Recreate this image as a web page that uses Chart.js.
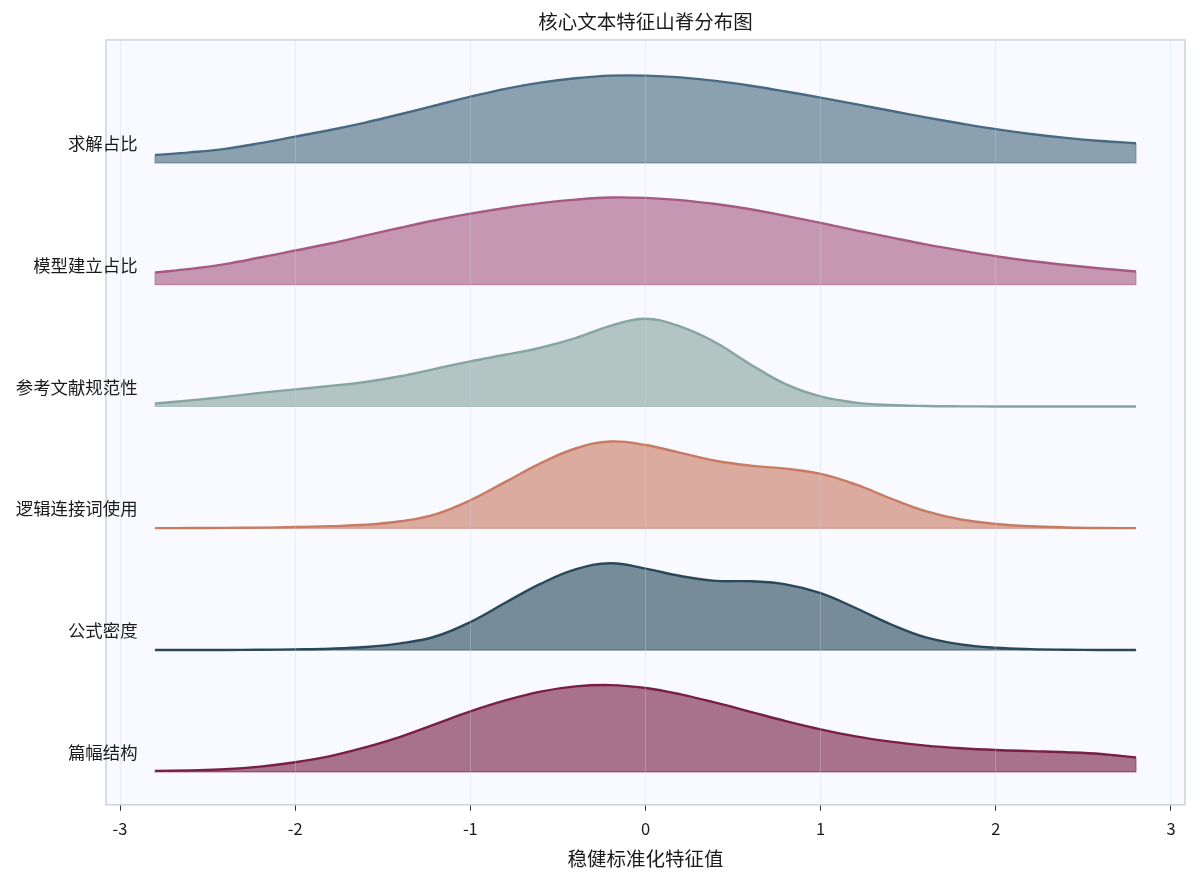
<!DOCTYPE html>
<html>
<head>
<meta charset="utf-8">
<title>核心文本特征山脊分布图</title>
<script src="https://cdn.jsdelivr.net/npm/chart.js@4.4.1/dist/chart.umd.min.js"></script>
<style>
  html, body { margin: 0; padding: 0; background: #ffffff; }
  #wrap { width: 1200px; height: 882px; }
</style>
</head>
<body>
<div id="wrap"><canvas id="ridgeChart"></canvas></div>
<script>
// 特征（从上到下）
const features = ['求解占比', '模型建立占比', '参考文献规范性', '逻辑连接词使用', '公式密度', '篇幅结构'];

// 评估网格 (稳健标准化特征值)
const xGrid = [-2.8, -2.6, -2.4, -2.2, -2.0, -1.8, -1.6, -1.4, -1.2, -1.0, -0.8, -0.6, -0.4, -0.2, 0.0,
  0.2, 0.4, 0.6, 0.8, 1.0, 1.2, 1.4, 1.6, 1.8, 2.0, 2.2, 2.4, 2.6, 2.8];

// 相对密度 (每条山脊峰值 = 1)
const densSolve = [0.09, 0.12, 0.16, 0.225, 0.30, 0.375, 0.46, 0.555, 0.655, 0.755, 0.845, 0.915, 0.965, 0.995, 0.995,
  0.975, 0.935, 0.88, 0.815, 0.745, 0.67, 0.595, 0.52, 0.45, 0.385, 0.33, 0.285, 0.25, 0.225];
const densModel = [0.14, 0.18, 0.235, 0.31, 0.39, 0.47, 0.56, 0.65, 0.735, 0.81, 0.875, 0.93, 0.97, 0.995, 0.99,
  0.965, 0.92, 0.86, 0.785, 0.705, 0.62, 0.54, 0.46, 0.39, 0.325, 0.27, 0.225, 0.185, 0.15];
const densRefs = [0.035, 0.07, 0.11, 0.155, 0.195, 0.235, 0.28, 0.345, 0.43, 0.515, 0.59, 0.67, 0.78, 0.92, 1.0,
  0.91, 0.73, 0.48, 0.255, 0.115, 0.045, 0.017, 0.006, 0.002, 0.001, 0.0, 0.0, 0.0, 0.0];
const densLogic = [0.002, 0.003, 0.005, 0.008, 0.015, 0.025, 0.04, 0.08, 0.16, 0.32, 0.53, 0.74, 0.91, 0.99, 0.95,
  0.86, 0.77, 0.715, 0.68, 0.62, 0.50, 0.34, 0.195, 0.10, 0.05, 0.023, 0.01, 0.004, 0.002];
const densFormula = [0.001, 0.001, 0.002, 0.004, 0.008, 0.016, 0.035, 0.077, 0.155, 0.32, 0.54, 0.755, 0.92, 0.99, 0.93,
  0.845, 0.79, 0.785, 0.75, 0.65, 0.48, 0.295, 0.145, 0.065, 0.027, 0.011, 0.005, 0.002, 0.001];
const densLength = [0.012, 0.018, 0.03, 0.06, 0.11, 0.18, 0.28, 0.40, 0.545, 0.69, 0.815, 0.915, 0.975, 0.99, 0.957,
  0.885, 0.79, 0.685, 0.58, 0.485, 0.405, 0.345, 0.30, 0.27, 0.25, 0.237, 0.225, 0.205, 0.165];

const densities = [densSolve, densModel, densRefs, densLogic, densFormula, densLength];
const xTicks = [-3, -2, -1, 0, 1, 2, 3];

const lineColors = ['#486a80', '#a65a83', '#87a49e', '#c87b63', '#29485a', '#781f42'];
const RIDGE_SCALE = 0.72;
const FONT = "'Noto Sans CJK SC', 'DejaVu Sans', sans-serif";

function hexToRgba(hex, a) {
  const n = parseInt(hex.slice(1), 16);
  return `rgba(${(n >> 16) & 255}, ${(n >> 8) & 255}, ${n & 255}, ${a})`;
}

const datasets = [];
features.forEach((name, i) => {
  const offset = features.length - 1 - i;
  const dens = densities[i];
  const first = dens[0], last = dens[dens.length - 1];
  // 填充区域的外框 (底边和两端)
  datasets.push({
    label: name + ' 边框',
    data: [
      { x: xGrid[0], y: offset + first * RIDGE_SCALE },
      { x: xGrid[0], y: offset },
      { x: xGrid[xGrid.length - 1], y: offset },
      { x: xGrid[xGrid.length - 1], y: offset + last * RIDGE_SCALE }
    ],
    borderColor: hexToRgba(lineColors[i], 0.55),
    borderWidth: 1.2,
    pointRadius: 0,
    tension: 0,
    fill: false
  });
  // 密度曲线
  datasets.push({
    label: name,
    data: xGrid.map((x, j) => ({ x: x, y: offset + dens[j] * RIDGE_SCALE })),
    borderColor: lineColors[i],
    backgroundColor: hexToRgba(lineColors[i], 0.62),
    borderWidth: 2.4,
    pointRadius: 0,
    tension: 0.4,
    fill: { value: offset }
  });
});

const ridgeDecor = {
  id: 'ridgeDecor',
  beforeDraw(chart) {
    const { ctx, chartArea: a } = chart;
    ctx.save();
    ctx.fillStyle = '#f8faff';
    ctx.fillRect(a.left, a.top, a.right - a.left, a.bottom - a.top);
    ctx.restore();
  },
  afterDraw(chart) {
    const { ctx, chartArea: a, scales } = chart;
    ctx.save();
    ctx.strokeStyle = '#cbd4dd';
    ctx.lineWidth = 1.5;
    ctx.strokeRect(a.left, a.top, a.right - a.left, a.bottom - a.top);
    ctx.fillStyle = '#1a1a1a';
    ctx.font = '17.4px ' + FONT;
    ctx.textAlign = 'right';
    ctx.textBaseline = 'middle';
    features.forEach((name, i) => {
      const offset = features.length - 1 - i;
      ctx.fillText(name, scales.x.getPixelForValue(-2.9), scales.y.getPixelForValue(offset + 0.16));
    });
    ctx.restore();
  }
};

new Chart(document.getElementById('ridgeChart').getContext('2d'), {
  type: 'line',
  data: { datasets: datasets },
  plugins: [ridgeDecor],
  options: {
    responsive: true,
    maintainAspectRatio: false,
    animation: false,
    layout: { padding: { left: 106, right: 15, top: 0, bottom: 12 } },
    plugins: {
      legend: { display: false },
      tooltip: { enabled: false },
      title: {
        display: true,
        text: '核心文本特征山脊分布图',
        color: '#1a1a1a',
        font: { family: FONT, size: 19.5, weight: 'normal' },
        padding: { top: 10, bottom: 6.5 }
      }
    },
    scales: {
      x: {
        type: 'linear',
        min: -3.08,
        max: 3.08,
        afterBuildTicks: axis => { axis.ticks = xTicks.map(v => ({ value: v })); },
        ticks: {
          color: '#1a1a1a',
          font: { family: FONT, size: 16.5 },
          padding: 8,
          autoSkip: false,
          maxRotation: 0,
          callback: v => String(v)
        },
        grid: {
          color: 'rgba(200, 210, 222, 0.34)',
          z: 1,
          tickLength: 6,
          tickColor: '#333333',
          tickWidth: 1
        },
        border: { display: false },
        title: {
          display: true,
          text: '稳健标准化特征值',
          color: '#1a1a1a',
          font: { family: FONT, size: 19.5 },
          padding: { top: 0, bottom: 0 }
        }
      },
      y: {
        type: 'linear',
        display: false,
        min: -0.27,
        max: 6.01
      }
    }
  }
});
</script>
</body>
</html>
